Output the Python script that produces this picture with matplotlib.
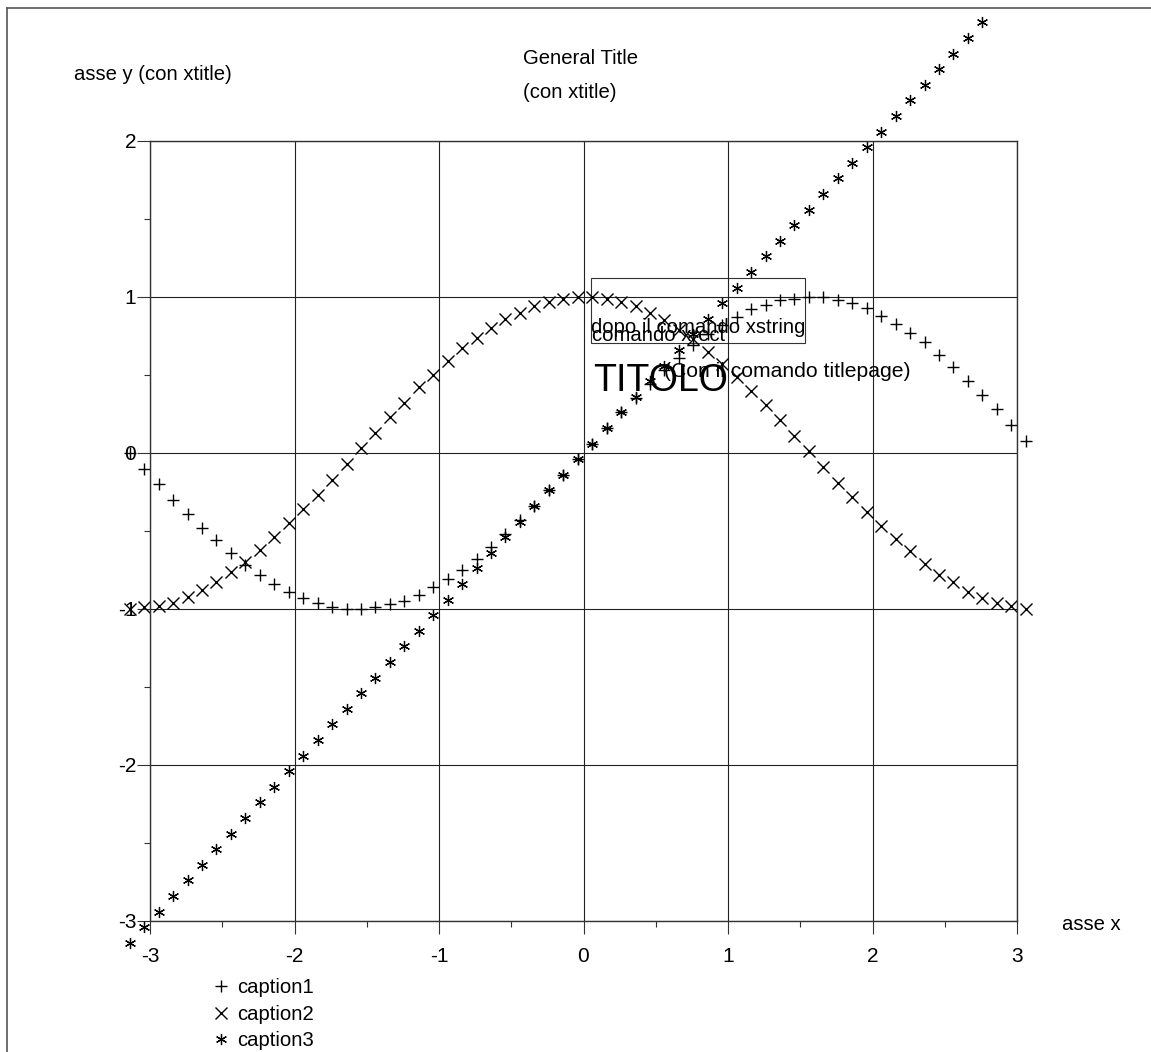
import matplotlib
matplotlib.use("Agg")
import matplotlib.pyplot as plt
from matplotlib.lines import Line2D
from matplotlib.patches import Rectangle
from matplotlib.transforms import Bbox, TransformedBbox

plt.rcParams["font.family"] = ["Liberation Sans", "DejaVu Sans"]
plt.rcParams["axes.unicode_minus"] = False

# sample points (step 0.1 from -pi)
x = [-3.14, -3.04, -2.94, -2.84, -2.74, -2.64, -2.54, -2.44, -2.34, -2.24,
     -2.14, -2.04, -1.94, -1.84, -1.74, -1.64, -1.54, -1.44, -1.34, -1.24,
     -1.14, -1.04, -0.94, -0.84, -0.74, -0.64, -0.54, -0.44, -0.34, -0.24,
     -0.14, -0.04, 0.06, 0.16, 0.26, 0.36, 0.46, 0.56, 0.66, 0.76,
     0.86, 0.96, 1.06, 1.16, 1.26, 1.36, 1.46, 1.56, 1.66, 1.76,
     1.86, 1.96, 2.06, 2.16, 2.26, 2.36, 2.46, 2.56, 2.66, 2.76,
     2.86, 2.96, 3.06]
# caption1 (+)
y1 = [0.00, -0.10, -0.20, -0.30, -0.39, -0.48, -0.56, -0.64, -0.72, -0.78,
      -0.84, -0.89, -0.93, -0.96, -0.99, -1.00, -1.00, -0.99, -0.97, -0.95,
      -0.91, -0.86, -0.81, -0.75, -0.68, -0.60, -0.52, -0.43, -0.34, -0.24,
      -0.14, -0.04, 0.06, 0.16, 0.26, 0.35, 0.44, 0.53, 0.61, 0.69,
      0.76, 0.82, 0.87, 0.92, 0.95, 0.98, 0.99, 1.00, 1.00, 0.98,
      0.96, 0.93, 0.88, 0.83, 0.77, 0.71, 0.63, 0.55, 0.46, 0.37,
      0.28, 0.18, 0.08]
# caption2 (x)
y2 = [-1.00, -0.99, -0.98, -0.96, -0.92, -0.88, -0.83, -0.76, -0.70, -0.62,
      -0.54, -0.45, -0.36, -0.27, -0.17, -0.07, 0.03, 0.13, 0.23, 0.32,
      0.42, 0.50, 0.59, 0.67, 0.74, 0.80, 0.86, 0.90, 0.94, 0.97,
      0.99, 1.00, 1.00, 0.99, 0.97, 0.94, 0.90, 0.85, 0.79, 0.73,
      0.65, 0.57, 0.49, 0.40, 0.31, 0.21, 0.11, 0.01, -0.09, -0.19,
      -0.28, -0.38, -0.47, -0.55, -0.63, -0.71, -0.78, -0.83, -0.89, -0.93,
      -0.96, -0.98, -1.00]
# caption3 (*)
y3 = [-3.14, -3.04, -2.94, -2.84, -2.74, -2.64, -2.54, -2.44, -2.34, -2.24,
      -2.14, -2.04, -1.94, -1.84, -1.74, -1.64, -1.54, -1.44, -1.34, -1.24,
      -1.14, -1.04, -0.94, -0.84, -0.74, -0.64, -0.54, -0.44, -0.34, -0.24,
      -0.14, -0.04, 0.06, 0.16, 0.26, 0.36, 0.46, 0.56, 0.66, 0.76,
      0.86, 0.96, 1.06, 1.16, 1.26, 1.36, 1.46, 1.56, 1.66, 1.76,
      1.86, 1.96, 2.06, 2.16, 2.26, 2.36, 2.46, 2.56, 2.66, 2.76,
      2.86, 2.96, 3.06]
captions = ["caption1", "caption2", "caption3"]
xticks = [-3, -2, -1, 0, 1, 2, 3]
yticks = [-3, -2, -1, 0, 1, 2]

W, H = 1151, 1052
FS = 14.6


def fx(px):
    return px / W


def fy(py):
    return 1 - py / H


fig = plt.figure(figsize=(W / 100, H / 100), dpi=100)
ax = fig.add_axes([fx(150), fy(921), fx(1017) - fx(150), fy(141) - fy(921)])

# markers may spill outside the axes but stay inside the window frame
frame_clip = TransformedBbox(Bbox([[fx(7), 0], [1, fy(15)]]), fig.transFigure)

star = (6, 2, 0)
series = [(y1, "+", 9, 1.0), (y2, "x", 8, 1.0), (y3, star, 8, 0.9)]
for (ys, mk, ms, mew), lab in zip(series, captions):
    ln, = ax.plot(x, ys, ls="none", marker=mk, ms=ms, mew=mew,
                  color="black", label=lab)
    ln.set_clip_box(frame_clip)
    ln.set_clip_on(True)

ax.set_xlim(-3, 3)
ax.set_ylim(-3, 2)
ax.set_xticks(xticks)
ax.set_yticks(yticks)
ax.set_xticks([-2.5, -1.5, -0.5, 0.5, 1.5, 2.5], minor=True)
ax.set_yticks([-2.5, -1.5, -0.5, 0.5, 1.5], minor=True)
ax.tick_params(which="major", direction="out", length=9.4, width=0.8,
               labelsize=15, color="#333333")
ax.tick_params(axis="x", which="major", pad=9)
ax.tick_params(axis="y", which="major", pad=0.5)
ax.tick_params(which="minor", direction="out", length=4.5, width=0.8,
               color="#333333")
ax.grid(True, which="major", color="#222222", lw=0.8)
for sp in ax.spines.values():
    sp.set_color("#333333")
    sp.set_linewidth(1.0)

# box and strings drawn over the curves
ax.add_patch(Rectangle((0.05, 0.705), 1.48, 0.417, fill=False, ec="#333333",
                       lw=0.8, clip_on=False))
ax.text(0.05, 0.77, "dopo il comando xstring", fontsize=FS, va="baseline")
ax.text(0.06, 0.72, "comando xrect", fontsize=FS, va="baseline")
ax.text(0.07, 0.40, "TITOLO", fontsize=27, va="baseline")
ax.text(0.56, 0.49, "(Con il comando titlepage)", fontsize=15.2,
        va="baseline")

# titles
fig.text(fx(523), fy(58), "General Title", fontsize=FS, va="center")
fig.text(fx(523), fy(92), "(con xtitle)", fontsize=FS, va="center")
fig.text(fx(74), fy(75), "asse y (con xtitle)", fontsize=FS, va="center")
fig.text(fx(1062), fy(925), "asse x", fontsize=FS, va="center")

ax.legend(loc="upper left", bbox_to_anchor=(fx(213), fy(978)),
          bbox_transform=fig.transFigure, frameon=False, fontsize=FS,
          numpoints=1, handlelength=0.8, handletextpad=0.4,
          labelspacing=0.38, borderpad=0, borderaxespad=0)

# outer frame (top and left edges)
fig.add_artist(Line2D([fx(7), 1], [fy(8), fy(8)], color="#555555", lw=1.2))
fig.add_artist(Line2D([fx(7), fx(7)], [fy(8), 0], color="#555555", lw=1.2))

fig.savefig("out.png", dpi=100, facecolor="white")
